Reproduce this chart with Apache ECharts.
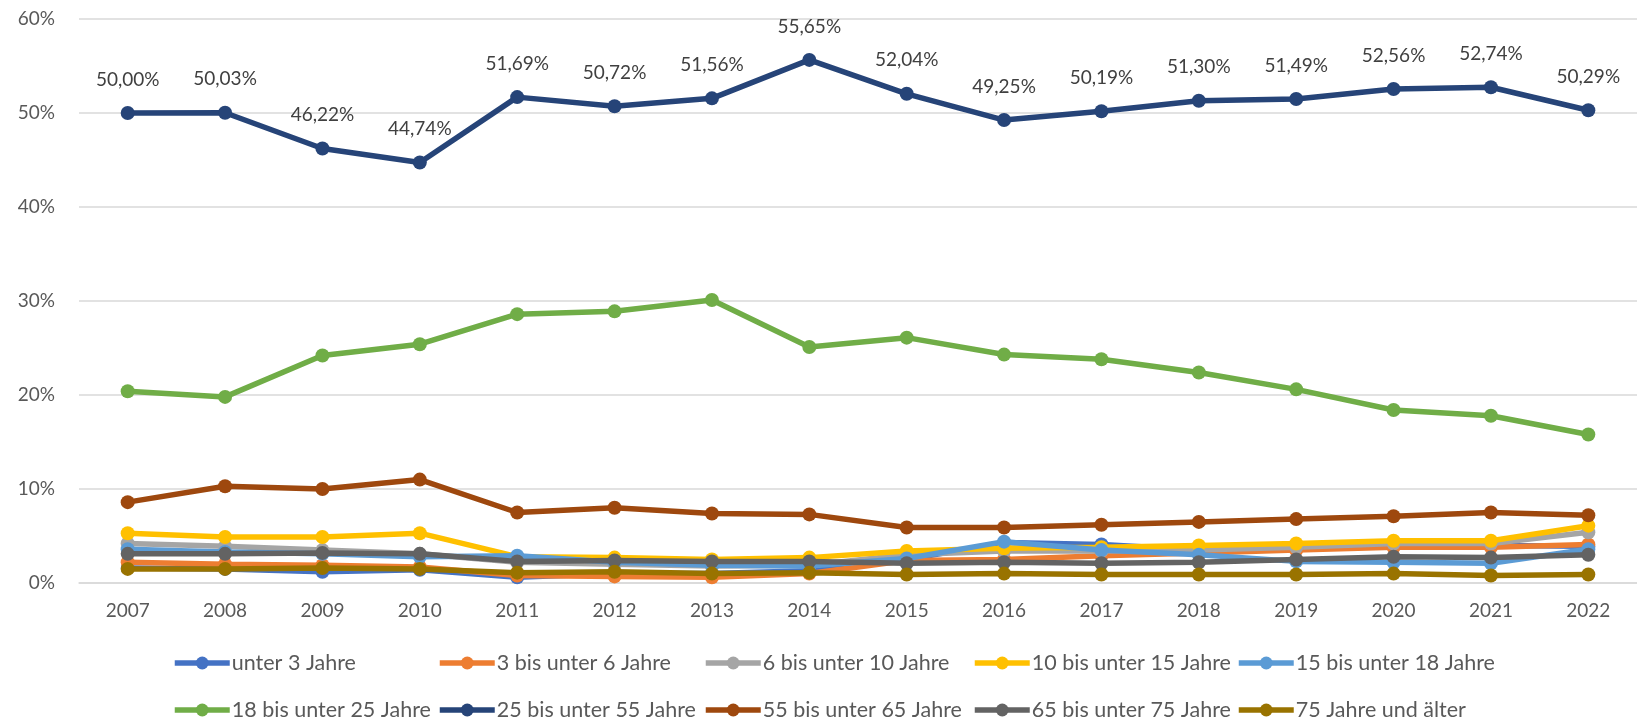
<!DOCTYPE html>
<html>
<head>
<meta charset="utf-8">
<script src="https://cdn.jsdelivr.net/npm/echarts@6/dist/echarts.min.js"></script>
<style>
html,body{margin:0;padding:0;background:#fff;}
#chart{width:1637px;height:725px;}
</style>
</head>
<body>
<div id="chart"></div>
<script>
var years = ['2007','2008','2009','2010','2011','2012','2013','2014','2015','2016','2017','2018','2019','2020','2021','2022'];
var seriesNames = ['unter 3 Jahre','3 bis unter 6 Jahre','6 bis unter 10 Jahre','10 bis unter 15 Jahre','15 bis unter 18 Jahre','18 bis unter 25 Jahre','25 bis unter 55 Jahre','55 bis unter 65 Jahre','65 bis unter 75 Jahre','75 Jahre und älter'];
var unter3   = [1.6, 1.5, 1.2, 1.4, 0.6, 1.0, 1.0, 1.3, 2.5, 4.3, 4.1, 3.5, 3.8, 3.9, 4.0, 3.9];
var a3bis6   = [2.2, 2.0, 1.9, 1.7, 0.8, 0.7, 0.6, 1.0, 2.4, 2.5, 2.9, 3.2, 3.5, 3.8, 3.8, 4.1];
var a6bis10  = [4.2, 3.9, 3.5, 3.1, 2.2, 2.0, 1.8, 1.9, 3.0, 3.4, 3.4, 3.5, 3.8, 4.2, 4.2, 5.4];
var a10bis15 = [5.3, 4.9, 4.9, 5.3, 2.8, 2.7, 2.5, 2.7, 3.4, 3.7, 3.8, 4.0, 4.2, 4.5, 4.5, 6.1];
var a15bis18 = [3.6, 3.3, 3.1, 2.8, 2.9, 2.2, 1.9, 1.8, 2.6, 4.4, 3.5, 3.0, 2.3, 2.2, 2.1, 3.6];
var a18bis25 = [20.4, 19.8, 24.2, 25.4, 28.6, 28.9, 30.1, 25.1, 26.1, 24.3, 23.8, 22.4, 20.6, 18.4, 17.8, 15.8];
var a25bis55 = [50.00, 50.03, 46.22, 44.74, 51.69, 50.72, 51.56, 55.65, 52.04, 49.25, 50.19, 51.30, 51.49, 52.56, 52.74, 50.29];
var a55bis65 = [8.6, 10.3, 10.0, 11.0, 7.5, 8.0, 7.4, 7.3, 5.9, 5.9, 6.2, 6.5, 6.8, 7.1, 7.5, 7.2];
var a65bis75 = [3.1, 3.1, 3.2, 3.1, 2.3, 2.4, 2.3, 2.3, 2.1, 2.2, 2.1, 2.2, 2.5, 2.8, 2.7, 3.0];
var ab75     = [1.5, 1.5, 1.6, 1.5, 1.1, 1.2, 1.0, 1.1, 0.9, 1.0, 0.9, 0.9, 0.9, 1.0, 0.8, 0.9];
var yTicks = [0, 10, 20, 30, 40, 50, 60];

var allData = [unter3, a3bis6, a6bis10, a10bis15, a15bis18, a18bis25, a25bis55, a55bis65, a65bis75, ab75];
var colors = ['#4472C4','#ED7D31','#A5A5A5','#FFC000','#5B9BD5','#70AD47','#264478','#9E480E','#636363','#997300'];
var FONT = 'Lato, "Noto Sans", sans-serif';

var legendPos = [
  [172, 664], [437, 664], [703, 664], [972, 664], [1236, 664],
  [172, 711], [437, 711], [703, 711], [972, 711], [1236, 711]
];

var series = seriesNames.map(function (name, i) {
  var s = {
    name: name,
    type: 'line',
    data: allData[i],
    color: colors[i],
    symbol: 'circle',
    symbolSize: 14,
    lineStyle: { width: 5.5, color: colors[i] },
    itemStyle: { color: colors[i] },
    animation: false,
    z: 2 + i
  };
  if (name === '25 bis unter 55 Jahre') {
    s.label = {
      show: true,
      position: 'top',
      distance: 17,
      fontFamily: FONT,
      fontSize: 19,
      color: '#404040',
      formatter: function (p) { return p.value.toFixed(2).replace('.', ',') + '%'; }
    };
  }
  return s;
});

var legends = seriesNames.map(function (name, i) {
  return {
    data: [name],
    left: legendPos[i][0],
    top: legendPos[i][1] - 12,
    itemWidth: 55,
    itemHeight: 16,
    itemGap: 0,
    padding: 0,
    lineStyle: { width: 5.5 },
    textStyle: { fontFamily: FONT, fontSize: 21.5, color: '#595959', padding: [0, 0, 0, -3] },
    selectedMode: false
  };
});

var chart = echarts.init(document.getElementById('chart'), null, { renderer: 'canvas' });
chart.setOption({
  backgroundColor: '#ffffff',
  animation: false,
  grid: { left: 79, top: 19, width: 1558, height: 564, containLabel: false },
  legend: legends,
  xAxis: {
    type: 'category',
    data: years,
    boundaryGap: true,
    axisLine: { show: true, lineStyle: { color: '#D9D9D9', width: 1.5 } },
    axisTick: { show: false },
    axisLabel: { fontFamily: FONT, fontSize: 19, color: '#595959', margin: 18 }
  },
  yAxis: {
    type: 'value',
    min: yTicks[0],
    max: yTicks[yTicks.length - 1],
    interval: 10,
    axisLine: { show: false },
    axisTick: { show: false },
    splitLine: { lineStyle: { color: '#D9D9D9', width: 1.5 } },
    axisLabel: { fontFamily: FONT, fontSize: 19, color: '#595959', margin: 24, formatter: '{value}%' }
  },
  series: series
});
</script>
</body>
</html>
